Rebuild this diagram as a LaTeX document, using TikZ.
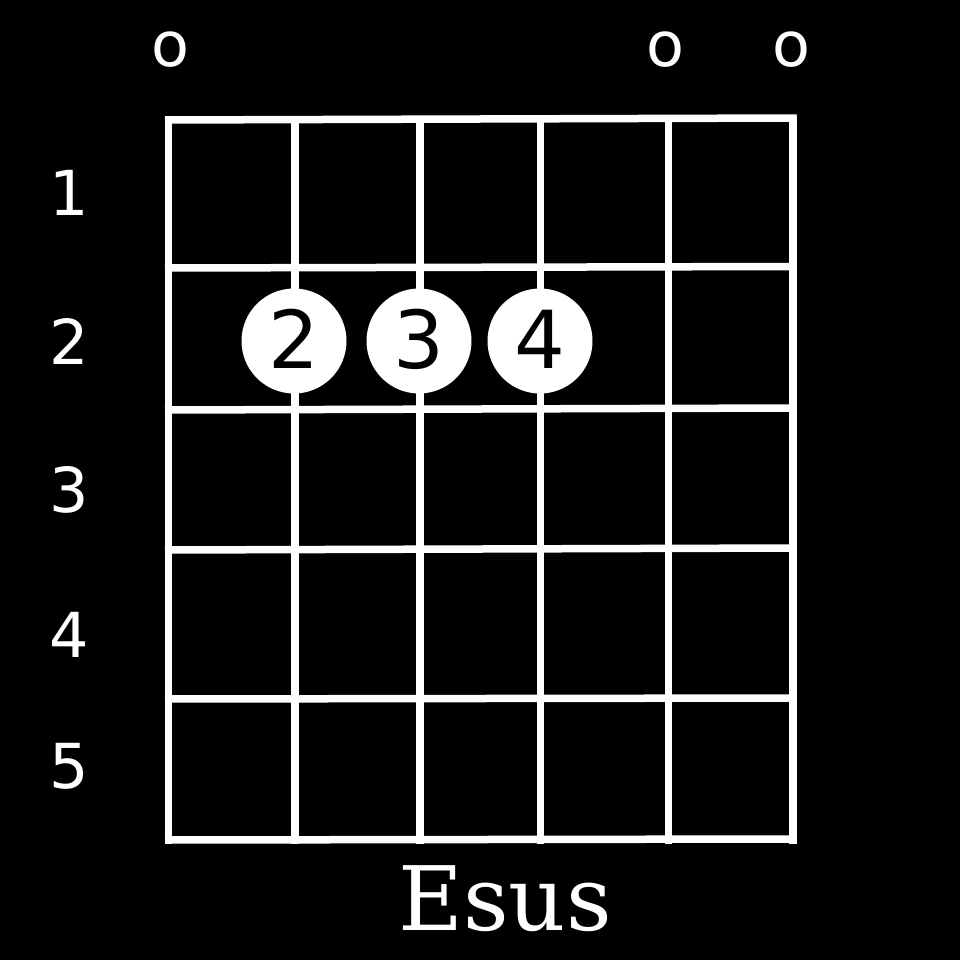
\documentclass[tikz,border=0pt]{standalone}
\usepackage{fontspec}
\setmainfont{DejaVu Sans}
\newfontfamily\titlefont{DejaVu Serif}
\begin{document}
\begin{tikzpicture}[x=1pt,y=-1pt,
  gridline/.style={draw=white,line width=7.5pt},
  fret/.style={anchor=base,text=white,inner sep=0pt,font=\fontsize{62}{62}\selectfont},
  openstr/.style={anchor=base,text=white,inner sep=0pt,font=\fontsize{62}{62}\selectfont},
  finger/.style={circle,fill=white,minimum size=105pt,inner sep=0pt},
  fingernum/.style={anchor=base,text=black,inner sep=0pt,font=\fontsize{80}{80}\selectfont}]
\fill[black] (0,0) rectangle (960,960);
\useasboundingbox (0,0) rectangle (960,960);
% horizontal lines
\foreach \a/\b in {120/118, 268/266.5, 410/408, 550/548, 699/698, 840/839}
  \draw[gridline] (165,\a) -- (796.5,\b);
% vertical lines
\foreach \x in {168.5, 295, 420, 540.5, 668.5, 793}
  \draw[gridline] (\x,116) -- (\x,843.5);
% open strings
\node[openstr] (o1) at (170,67) {o};
\node[openstr] (o5) at (665,67) {o};
\node[openstr] (o6) at (791,67) {o};
% fret numbers
\node[fret] (f1) at (69,215) {1};
\node[fret] (f2) at (69,364) {2};
\node[fret] (f3) at (69,512) {3};
\node[fret] (f4) at (69,657) {4};
\node[fret] (f5) at (69,788) {5};
% fingers
\node[finger] (d2) at (294,341) {};
\node[finger] (d3) at (419,341) {};
\node[finger] (d4) at (540,341) {};
\node[fingernum] (n2) at (294,368) {2};
\node[fingernum] (n3) at (419,368) {3};
\node[fingernum] (n4) at (540,368) {4};
% title
\node[anchor=base,text=white,inner sep=0pt,font=\titlefont\fontsize{89}{89}\selectfont] (title) at (505,930) {Esus};
\end{tikzpicture}
\end{document}
